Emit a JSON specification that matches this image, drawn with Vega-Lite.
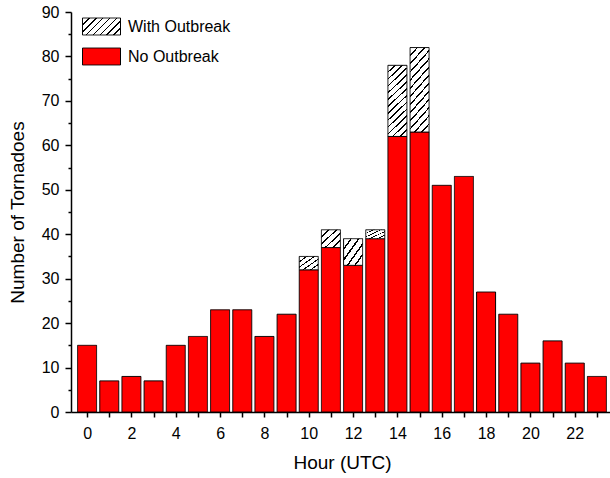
{
  "$schema": "https://vega.github.io/schema/vega-lite/v6.json",
  "autosize": {"type": "none"},
  "padding": {"left": 71, "top": 12, "right": 0, "bottom": 66},
  "width": 542,
  "height": 400,
  "background": "white",
  "config": {
    "view": {"stroke": null},
    "font": "Liberation Sans",
    "axis": {"grid": false, "domainColor": "#000", "domainWidth": 1.5, "tickColor": "#000", "tickWidth": 1.5, "labelColor": "#000", "titleColor": "#000", "labelFont": "Liberation Sans", "titleFont": "Liberation Sans", "labelFontSize": 16, "titleFontSize": 19, "titleFontWeight": "normal"},
    "legend": {"labelFont": "Liberation Sans", "labelFontSize": 16, "labelColor": "#000"}
  },
  "data": {
    "values": [
      {"hour": 0, "type": "No Outbreak", "count": 15},
      {"hour": 1, "type": "No Outbreak", "count": 7},
      {"hour": 2, "type": "No Outbreak", "count": 8},
      {"hour": 3, "type": "No Outbreak", "count": 7},
      {"hour": 4, "type": "No Outbreak", "count": 15},
      {"hour": 5, "type": "No Outbreak", "count": 17},
      {"hour": 6, "type": "No Outbreak", "count": 23},
      {"hour": 7, "type": "No Outbreak", "count": 23},
      {"hour": 8, "type": "No Outbreak", "count": 17},
      {"hour": 9, "type": "No Outbreak", "count": 22},
      {"hour": 10, "type": "No Outbreak", "count": 32},
      {"hour": 11, "type": "No Outbreak", "count": 37},
      {"hour": 12, "type": "No Outbreak", "count": 33},
      {"hour": 13, "type": "No Outbreak", "count": 39},
      {"hour": 14, "type": "No Outbreak", "count": 62},
      {"hour": 15, "type": "No Outbreak", "count": 63},
      {"hour": 16, "type": "No Outbreak", "count": 51},
      {"hour": 17, "type": "No Outbreak", "count": 53},
      {"hour": 18, "type": "No Outbreak", "count": 27},
      {"hour": 19, "type": "No Outbreak", "count": 22},
      {"hour": 20, "type": "No Outbreak", "count": 11},
      {"hour": 21, "type": "No Outbreak", "count": 16},
      {"hour": 22, "type": "No Outbreak", "count": 11},
      {"hour": 23, "type": "No Outbreak", "count": 8},
      {"hour": 10, "type": "With Outbreak", "count": 3},
      {"hour": 11, "type": "With Outbreak", "count": 4},
      {"hour": 12, "type": "With Outbreak", "count": 6},
      {"hour": 13, "type": "With Outbreak", "count": 2},
      {"hour": 14, "type": "With Outbreak", "count": 16},
      {"hour": 15, "type": "With Outbreak", "count": 19}
    ]
  },
  "transform": [
    {"stack": "count", "groupby": ["hour"], "sort": [{"field": "type", "order": "ascending"}], "as": ["y0", "y1"]}
  ],
  "mark": {"type": "bar", "size": 19, "stroke": "#000", "strokeWidth": 1},
  "encoding": {
    "x": {
      "field": "hour", "type": "quantitative",
      "scale": {"domain": [-0.5, 23.5], "nice": false, "zero": false},
      "axis": {"values": [0,1,2,3,4,5,6,7,8,9,10,11,12,13,14,15,16,17,18,19,20,21,22,23], "labelExpr": "datum.value % 2 === 0 ? datum.label : ''", "tickSize": 5, "labelPadding": 8, "title": "Hour (UTC)", "titlePadding": 12}
    },
    "y": {
      "field": "y1", "type": "quantitative",
      "scale": {"domain": [0, 90], "nice": false},
      "axis": {"values": [0,5,10,15,20,25,30,35,40,45,50,55,60,65,70,75,80,85,90], "labelExpr": "datum.value % 10 === 0 ? datum.label : ''", "tickSize": {"condition": {"test": "datum.value % 10 === 0", "value": 6}, "value": 3}, "labelPadding": 6, "title": "Number of Tornadoes", "titlePadding": 14}
    },
    "y2": {"field": "y0"},
    "fill": {
      "condition": [
        {"test": "datum.type === 'With Outbreak' && datum.count > 10", "value": {"gradient": "linear", "x1": 0, "y1": 0, "x2": 0.298, "y2": 1.178, "stops": [
          {"offset": 0, "color": "#fff"},
          {"offset": 0.068, "color": "#fff"}, {"offset": 0.068, "color": "#000"}, {"offset": 0.086, "color": "#000"}, {"offset": 0.086, "color": "#fff"},
          {"offset": 0.145, "color": "#fff"}, {"offset": 0.145, "color": "#000"}, {"offset": 0.163, "color": "#000"}, {"offset": 0.163, "color": "#fff"},
          {"offset": 0.222, "color": "#fff"}, {"offset": 0.222, "color": "#000"}, {"offset": 0.240, "color": "#000"}, {"offset": 0.240, "color": "#fff"},
          {"offset": 0.299, "color": "#fff"}, {"offset": 0.299, "color": "#000"}, {"offset": 0.317, "color": "#000"}, {"offset": 0.317, "color": "#fff"},
          {"offset": 0.376, "color": "#fff"}, {"offset": 0.376, "color": "#000"}, {"offset": 0.394, "color": "#000"}, {"offset": 0.394, "color": "#fff"},
          {"offset": 0.453, "color": "#fff"}, {"offset": 0.453, "color": "#000"}, {"offset": 0.471, "color": "#000"}, {"offset": 0.471, "color": "#fff"},
          {"offset": 0.530, "color": "#fff"}, {"offset": 0.530, "color": "#000"}, {"offset": 0.548, "color": "#000"}, {"offset": 0.548, "color": "#fff"},
          {"offset": 0.606, "color": "#fff"}, {"offset": 0.606, "color": "#000"}, {"offset": 0.624, "color": "#000"}, {"offset": 0.624, "color": "#fff"},
          {"offset": 0.683, "color": "#fff"}, {"offset": 0.683, "color": "#000"}, {"offset": 0.701, "color": "#000"}, {"offset": 0.701, "color": "#fff"},
          {"offset": 0.760, "color": "#fff"}, {"offset": 0.760, "color": "#000"}, {"offset": 0.778, "color": "#000"}, {"offset": 0.778, "color": "#fff"},
          {"offset": 0.837, "color": "#fff"}, {"offset": 0.837, "color": "#000"}, {"offset": 0.855, "color": "#000"}, {"offset": 0.855, "color": "#fff"},
          {"offset": 0.914, "color": "#fff"}, {"offset": 0.914, "color": "#000"}, {"offset": 0.932, "color": "#000"}, {"offset": 0.932, "color": "#fff"},
          {"offset": 1, "color": "#fff"}
        ]}},
        {"test": "datum.type === 'With Outbreak'", "value": {"gradient": "linear", "x1": 0, "y1": 0, "x2": 1, "y2": 1, "stops": [
          {"offset": 0, "color": "#fff"},
          {"offset": 0.177, "color": "#fff"}, {"offset": 0.177, "color": "#000"}, {"offset": 0.223, "color": "#000"}, {"offset": 0.223, "color": "#fff"},
          {"offset": 0.377, "color": "#fff"}, {"offset": 0.377, "color": "#000"}, {"offset": 0.423, "color": "#000"}, {"offset": 0.423, "color": "#fff"},
          {"offset": 0.577, "color": "#fff"}, {"offset": 0.577, "color": "#000"}, {"offset": 0.623, "color": "#000"}, {"offset": 0.623, "color": "#fff"},
          {"offset": 0.777, "color": "#fff"}, {"offset": 0.777, "color": "#000"}, {"offset": 0.823, "color": "#000"}, {"offset": 0.823, "color": "#fff"},
          {"offset": 1, "color": "#fff"}
        ]}}
      ],
      "value": "#ff0000"
    },
    "strokeDash": {
      "field": "type", "type": "nominal",
      "scale": {"domain": ["With Outbreak", "No Outbreak"], "range": [[1, 0], [1, 0]]},
      "legend": {"title": null, "orient": "none", "legendX": 11, "legendY": -5, "symbolType": "M-1,-0.447H1V0.447H-1Z", "symbolSize": 1444, "symbolStrokeColor": "#000", "symbolStrokeWidth": 1, "symbolOpacity": 1, "labelOffset": 7, "rowPadding": -9,
        "encoding": {"symbols": {
          "stroke": {"value": "#000"},
          "strokeWidth": {"value": 1},
          "fill": {
            "condition": {"test": "datum.value === 'With Outbreak'", "value": {"gradient": "linear", "x1": 0, "y1": 0, "x2": 1.206, "y2": 0.539, "stops": [
            {"offset": 0, "color": "#fff"},
            {"offset": 0.111, "color": "#fff"}, {"offset": 0.111, "color": "#000"}, {"offset": 0.139, "color": "#000"}, {"offset": 0.139, "color": "#fff"},
            {"offset": 0.236, "color": "#fff"}, {"offset": 0.236, "color": "#000"}, {"offset": 0.264, "color": "#000"}, {"offset": 0.264, "color": "#fff"},
            {"offset": 0.361, "color": "#fff"}, {"offset": 0.361, "color": "#000"}, {"offset": 0.389, "color": "#000"}, {"offset": 0.389, "color": "#fff"},
            {"offset": 0.486, "color": "#fff"}, {"offset": 0.486, "color": "#000"}, {"offset": 0.514, "color": "#000"}, {"offset": 0.514, "color": "#fff"},
            {"offset": 0.611, "color": "#fff"}, {"offset": 0.611, "color": "#000"}, {"offset": 0.639, "color": "#000"}, {"offset": 0.639, "color": "#fff"},
            {"offset": 0.736, "color": "#fff"}, {"offset": 0.736, "color": "#000"}, {"offset": 0.764, "color": "#000"}, {"offset": 0.764, "color": "#fff"},
            {"offset": 0.861, "color": "#fff"}, {"offset": 0.861, "color": "#000"}, {"offset": 0.889, "color": "#000"}, {"offset": 0.889, "color": "#fff"},
            {"offset": 1, "color": "#fff"}
          ]}},
            "value": "#ff0000"
          }
        }},
        "encode": {"symbols": {"update": {"stroke": {"value": "#000"}, "strokeWidth": {"value": 1}}}}
      }
    }
  }
}
